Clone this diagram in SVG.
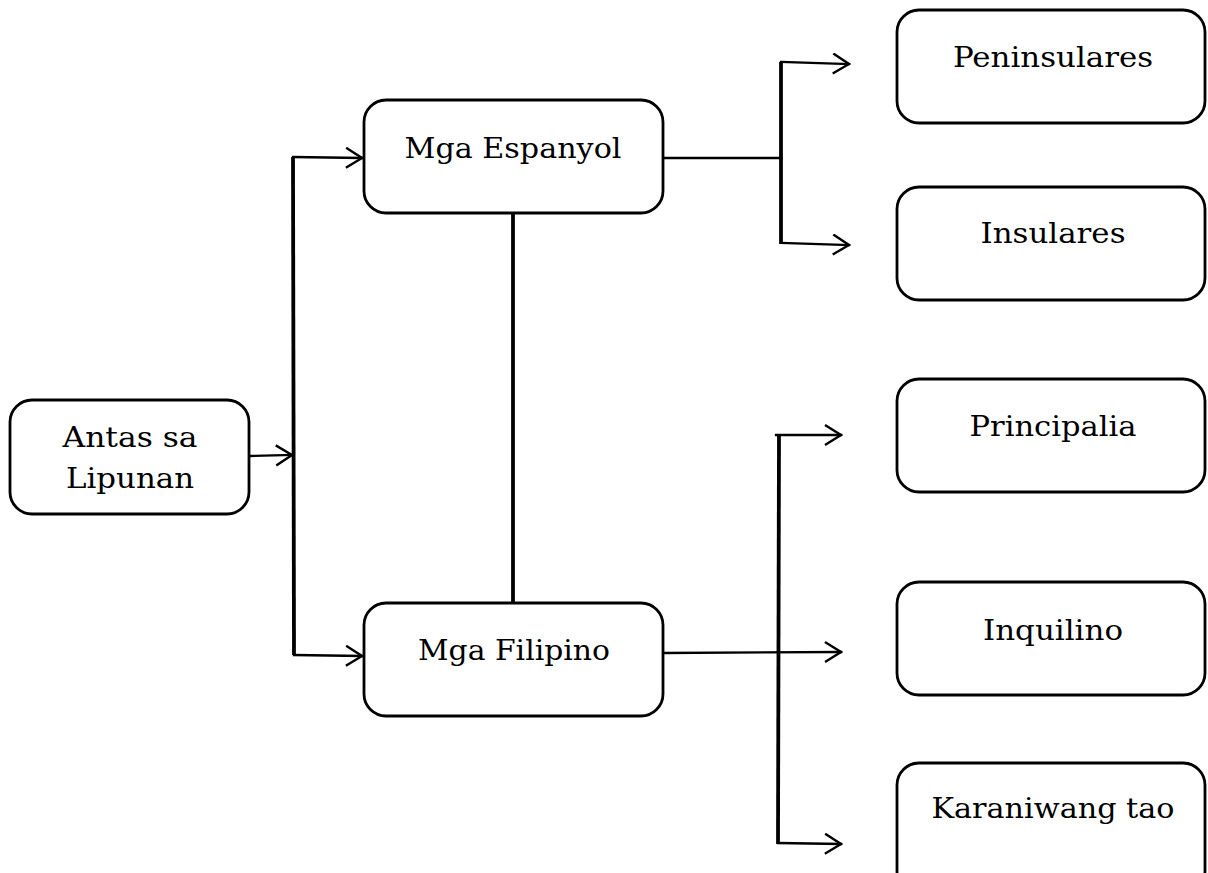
<svg xmlns="http://www.w3.org/2000/svg" width="1208" height="873" viewBox="0 0 1208 873">
<style>
.box{fill:#fff;stroke:#000;stroke-width:2.8}
.t{font-family:"DejaVu Serif","Liberation Serif",serif;font-size:27px;fill:#000;text-anchor:middle}
.c{fill:none;stroke:#000;stroke-width:2.3;stroke-linecap:square}
.trunk{fill:none;stroke:#000;stroke-width:3.8}
</style>
<defs>
<marker id="arr" markerUnits="userSpaceOnUse" markerWidth="22" markerHeight="24" refX="18" refY="11" orient="auto">
<path d="M2,1 L18,11 L2,21" fill="none" stroke="#000" stroke-width="2.4"/>
</marker>
</defs>
<rect width="1208" height="873" fill="#fff"/>
<g id="connectors">
<path class="c" d="M250,456 L292,455" marker-end="url(#arr)"/>
<path class="trunk" d="M293,157 L294,655"/>
<path class="c" d="M293,157 L362,158" marker-end="url(#arr)"/>
<path class="c" d="M294,655 L362,656" marker-end="url(#arr)"/>
<path class="trunk" d="M513,213 L513,603"/>
<path class="c" d="M664,158 L781,158"/>
<path class="trunk" d="M781,62 L781,244"/>
<path class="c" d="M781,62 L849,64" marker-end="url(#arr)"/>
<path class="c" d="M781,243 L849,245" marker-end="url(#arr)"/>
<path class="c" d="M664,653 L841,652" marker-end="url(#arr)"/>
<path class="trunk" d="M779,435 L778,844"/>
<path class="c" d="M776,435 L841,435" marker-end="url(#arr)"/>
<path class="c" d="M778,843 L841,844" marker-end="url(#arr)"/>
</g>
<g id="antas">
<rect class="box" x="10" y="400" width="239" height="114" rx="22"/>
<text class="t" x="130" y="447" textLength="135" lengthAdjust="spacingAndGlyphs">Antas sa</text>
<text class="t" x="130" y="488" textLength="128" lengthAdjust="spacingAndGlyphs">Lipunan</text>
</g>
<g id="espanyol">
<rect class="box" x="364" y="100" width="299" height="113" rx="22"/>
<text class="t" x="513" y="158" textLength="217" lengthAdjust="spacingAndGlyphs">Mga Espanyol</text>
</g>
<g id="filipino">
<rect class="box" x="364" y="603" width="299" height="113" rx="22"/>
<text class="t" x="514" y="660" textLength="192" lengthAdjust="spacingAndGlyphs">Mga Filipino</text>
</g>
<g id="peninsulares">
<rect class="box" x="897" y="10" width="308" height="113" rx="22"/>
<text class="t" x="1053" y="67" textLength="200" lengthAdjust="spacingAndGlyphs">Peninsulares</text>
</g>
<g id="insulares">
<rect class="box" x="897" y="187" width="308" height="113" rx="22"/>
<text class="t" x="1053" y="243" textLength="145" lengthAdjust="spacingAndGlyphs">Insulares</text>
</g>
<g id="principalia">
<rect class="box" x="897" y="379" width="308" height="113" rx="22"/>
<text class="t" x="1053" y="436" textLength="167" lengthAdjust="spacingAndGlyphs">Principalia</text>
</g>
<g id="inquilino">
<rect class="box" x="897" y="582" width="308" height="113" rx="22"/>
<text class="t" x="1053" y="640" textLength="140" lengthAdjust="spacingAndGlyphs">Inquilino</text>
</g>
<g id="karaniwang">
<rect class="box" x="897" y="763" width="308" height="130" rx="22"/>
<text class="t" x="1053" y="818" textLength="243" lengthAdjust="spacingAndGlyphs">Karaniwang tao</text>
</g>
</svg>
